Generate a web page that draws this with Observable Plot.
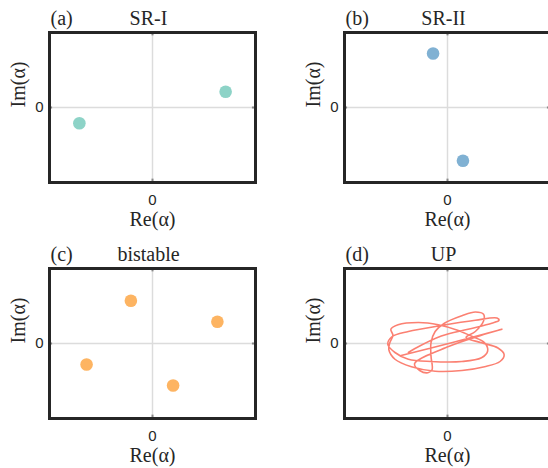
<!DOCTYPE html>
<html><head><meta charset="utf-8">
<script src="https://cdn.jsdelivr.net/npm/d3@7"></script>
<script src="https://cdn.jsdelivr.net/npm/@observablehq/plot@0.6"></script>
<style>
body{margin:0;background:#fff;overflow:hidden;width:548px;height:468px;position:relative}
.p{position:absolute}
</style></head><body>
<script>
const panelLetters = ["(a)", "(b)", "(c)", "(d)"];
const panelTitles = ["SR-I", "SR-II", "bistable", "UP"];
const panelColors = ["#8dd3c7", "#80b1d3", "#fdb462", "#fb8072"];
const tickLabels = [0];

// (a) SR-I
const srIRe = [-0.71, 0.71];
const srIIm = [-0.21, 0.21];
// (b) SR-II
const srIIRe = [-0.14, 0.15];
const srIIIm = [0.72, -0.71];
// (c) bistable
const biRe = [-0.21, 0.63, -0.64, 0.20];
const biIm = [0.57, 0.29, -0.28, -0.56];
// (d) UP trajectory
const upRe = [-0.45,0.04,0.53,0.33,0.01,-0.32,-0.27,-0.19,-0.15,-0.16,-0.16,-0.12,-0.03,0.14,0.27,0.35,0.35,0.27,0.18,0.33,0.49,0.55,0.51,0.36,0.14,-0.12,-0.35,-0.51,-0.57,-0.56,-0.53,-0.55,-0.48,-0.28,-0.09,0.09,0.23,0.36,0.39,0.33,0.14,-0.16,-0.38,-0.51,-0.58,-0.54,-0.38,-0.06,0.27,0.48,0.50,0.43,0.20,-0.06,-0.32,-0.38];
const upIm = [-0.16,0.01,0.19,0.11,-0.04,-0.27,-0.36,-0.39,-0.35,-0.17,0.01,0.16,0.27,0.37,0.42,0.39,0.30,0.16,0.08,0.01,-0.06,-0.15,-0.24,-0.31,-0.36,-0.37,-0.31,-0.21,-0.08,0.01,0.11,0.19,0.25,0.28,0.25,0.18,0.10,0.01,-0.10,-0.19,-0.24,-0.24,-0.21,-0.12,-0.01,0.09,0.16,0.24,0.31,0.34,0.31,0.27,0.19,0.10,-0.07,-0.12];

const toPts = (re, im) => re.map((r, i) => ({re: r, im: im[i]}));
const panelData = [toPts(srIRe, srIIm), toPts(srIIRe, srIIIm), toPts(biRe, biIm), toPts(upRe, upIm)];
const offsets = [[0, 0], [295, 0], [0, 236], [295, 236]];

const serif = "'Liberation Serif', serif";
const sans = "'Liberation Sans', sans-serif";

panelData.forEach((pts, k) => {
  const dataMark = k === 3
    ? Plot.line(pts, {x: "re", y: "im", stroke: panelColors[k], strokeWidth: 1.6, curve: "catmull-rom"})
    : Plot.dot(pts, {x: "re", y: "im", r: 6.3, fill: panelColors[k], stroke: "none"});
  const svg = Plot.plot({
    width: 274, height: 234,
    marginLeft: 49, marginRight: 19, marginTop: 32, marginBottom: 52,
    x: {domain: [-1, 1], axis: null},
    y: {domain: [-1, 1], axis: null},
    style: {background: "transparent"},
    marks: [
      Plot.ruleX(tickLabels, {x: d => d, stroke: "#dcdcdc", strokeWidth: 1.5}),
      Plot.ruleY(tickLabels, {y: d => d, stroke: "#dcdcdc", strokeWidth: 1.5}),
      Plot.ruleX(tickLabels, {x: d => d, y1: 1, y2: 0.955, stroke: "#888", strokeWidth: 2}),
      Plot.ruleX(tickLabels, {x: d => d, y1: -1, y2: -0.955, stroke: "#888", strokeWidth: 2}),
      Plot.ruleY(tickLabels, {y: d => d, x1: -1, x2: -0.97, stroke: "#888", strokeWidth: 2}),
      Plot.ruleY(tickLabels, {y: d => d, x1: 1, x2: 0.97, stroke: "#888", strokeWidth: 2}),
      dataMark,
      Plot.frame({stroke: "#262626", strokeWidth: 3}),
      Plot.text(tickLabels, {x: d => d, text: d => String(d), frameAnchor: "bottom", dy: 18, lineAnchor: "middle", fontSize: 15, fontFamily: sans, fill: "#262626"}),
      Plot.text(tickLabels, {y: d => d, text: d => String(d), frameAnchor: "left", dx: -6, textAnchor: "end", lineAnchor: "middle", fontSize: 15, fontFamily: sans, fill: "#262626"}),
      Plot.text(["Re(α)"], {frameAnchor: "bottom", dy: 37, lineAnchor: "middle", fontSize: 20, fontFamily: serif, fill: "#262626"}),
      Plot.text(["Im(α)"], {frameAnchor: "left", dx: -31, rotate: -90, lineAnchor: "middle", fontSize: 20, fontFamily: serif, fill: "#262626"}),
      Plot.text([panelLetters[k]], {frameAnchor: "top-left", dx: 1, dy: -14, textAnchor: "start", lineAnchor: "middle", fontSize: 20, fontFamily: serif, fill: "#262626"}),
      Plot.text([panelTitles[k]], {frameAnchor: "top", dx: -4, dy: -14, lineAnchor: "middle", fontSize: 20, fontFamily: serif, fill: "#262626"})
    ]
  });
  svg.classList.add("p");
  svg.style.left = offsets[k][0] + "px";
  svg.style.top = offsets[k][1] + "px";
  svg.style.overflow = "visible";
  document.body.appendChild(svg);
});
</script>
</body></html>
